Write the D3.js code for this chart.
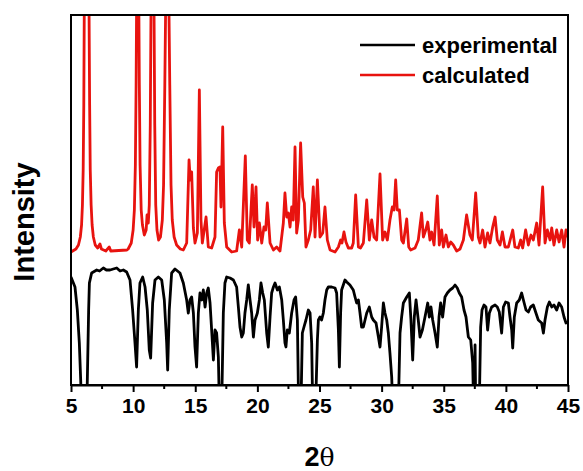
<!DOCTYPE html>
<html>
<head>
<meta charset="utf-8">
<script src="https://cdn.jsdelivr.net/npm/d3@7"></script>
<style>
  html, body { margin: 0; padding: 0; background: #fff; }
  svg { display: block; }
  text { font-family: "Liberation Sans", Arial, sans-serif; }
</style>
</head>
<body>
<svg id="chart" width="583" height="471"></svg>
<script>
// ---- data (2θ in degrees, intensity in arbitrary units) ----
const xTicks = [5, 10, 15, 20, 25, 30, 35, 40, 45];
const seriesNames = ["experimental", "calculated"];
const seriesColors = ["#000000", "#e8130f"];

const calculated = [
  [5.00,133],[5.40,136],[5.60,140],[5.75,148],[5.85,160],[5.92,180],[5.98,215],[6.03,280],[6.07,380],[6.26,700],
  [6.45,380],[6.50,280],[6.55,215],[6.62,180],[6.70,160],[6.80,148],[6.95,140],[7.15,137],[7.33,141],[7.45,136],
  [7.80,134],[8.08,138],[8.20,134],[9.50,135],[9.60,136],[9.85,142],[10.00,155],[10.10,175],[10.18,220],[10.24,300],
  [10.28,380],[10.37,700],[10.46,380],[10.50,300],[10.56,220],[10.65,175],[10.75,160],[10.90,150],[11.05,155],[11.12,170],
  [11.22,162],[11.30,180],[11.38,260],[11.44,380],[11.57,700],[11.68,380],[11.74,260],[11.82,180],[11.92,155],[12.05,145],
  [12.20,148],[12.35,165],[12.45,200],[12.55,300],[12.62,380],[12.75,700],[12.88,380],[12.95,300],[13.05,200],[13.15,165],
  [13.30,148],[13.50,140],[13.80,136],[14.04,135],[14.31,142],[14.50,225],[14.60,205],[14.71,213],[14.85,157],[14.98,142],
  [15.17,152],[15.33,295],[15.46,165],[15.57,142],[15.87,168],[16.05,138],[16.32,137],[16.59,148],[16.72,213],[16.86,217],
  [16.99,218],[17.07,178],[17.21,258],[17.34,162],[17.53,138],[17.93,133],[18.33,134],[18.55,155],[18.74,138],[19.03,229],
  [19.19,145],[19.35,142],[19.59,200],[19.73,158],[19.89,198],[20.02,145],[20.16,162],[20.35,142],[20.53,158],[20.67,155],
  [20.80,182],[21.02,142],[21.29,135],[21.55,138],[21.82,134],[22.09,162],[22.22,192],[22.36,168],[22.49,172],[22.63,158],
  [22.76,178],[22.89,165],[23.03,238],[23.16,152],[23.30,165],[23.48,242],[23.65,188],[23.78,182],[23.91,138],[24.10,145],
  [24.29,155],[24.50,198],[24.64,148],[24.83,205],[25.04,148],[25.26,152],[25.44,178],[25.63,145],[25.85,135],[26.25,133],
  [26.52,138],[26.70,145],[26.81,142],[26.97,153],[27.13,143],[27.32,137],[27.59,137],[27.72,142],[27.91,190],[28.13,138],
  [28.30,137],[28.53,142],[28.80,185],[29.01,145],[29.20,165],[29.39,148],[29.60,145],[29.87,211],[30.08,145],[30.27,153],
  [30.46,145],[30.67,165],[30.86,178],[31.00,175],[31.13,205],[31.26,175],[31.43,175],[31.61,145],[31.75,142],[32.02,166],
  [32.18,138],[32.34,135],[32.69,137],[32.95,145],[33.22,172],[33.36,148],[33.55,155],[33.71,163],[33.89,145],[34.03,153],
  [34.22,140],[34.48,189],[34.64,140],[34.83,155],[34.97,138],[35.18,150],[35.37,138],[35.56,143],[35.77,140],[36.04,134],
  [36.31,136],[36.58,145],[36.84,170],[37.11,150],[37.30,145],[37.57,192],[37.78,148],[37.92,142],[38.13,155],[38.32,138],
  [38.53,152],[38.72,142],[38.94,158],[39.13,168],[39.31,145],[39.53,140],[39.72,153],[39.93,138],[40.20,138],[40.55,155],
  [40.73,138],[41.00,137],[41.19,145],[41.35,137],[41.59,155],[41.81,140],[42.02,150],[42.21,145],[42.48,162],[42.67,140],
  [42.96,198],[43.15,142],[43.34,155],[43.55,145],[43.69,157],[43.87,140],[44.09,155],[44.28,143],[44.49,155],[44.68,138],
  [44.84,155],[45.00,148]
];

const experimental = [
  [5.00,108],[5.32,98],[5.51,75],[5.67,42],[5.78,5],[5.89,-40],[6.15,-40],[6.31,2],[6.42,75],[6.48,102],
  [6.66,112],[7.07,115],[7.30,114],[7.60,117],[7.85,115],[8.14,115],[8.40,116],[8.68,117],[8.95,114],[9.21,115],
  [9.48,113],[9.75,105],[9.96,75],[10.15,42],[10.28,18],[10.42,75],[10.55,102],[10.77,108],[10.96,98],[11.14,75],
  [11.30,35],[11.41,27],[11.57,82],[11.76,105],[12.03,108],[12.30,105],[12.51,85],[12.70,42],[12.78,15],[12.91,75],
  [13.10,112],[13.37,116],[13.77,112],[14.04,102],[14.31,85],[14.44,72],[14.58,85],[14.71,88],[14.85,72],[14.98,38],
  [15.11,18],[15.25,72],[15.38,92],[15.52,85],[15.65,95],[15.79,78],[15.92,92],[16.05,97],[16.19,82],[16.32,55],
  [16.46,25],[16.59,55],[16.72,52],[16.86,28],[16.94,-20],[17.13,-20],[17.26,72],[17.39,102],[17.53,108],[17.80,107],
  [18.07,105],[18.33,98],[18.47,78],[18.60,58],[18.74,48],[18.87,52],[19.00,72],[19.14,85],[19.27,100],[19.41,85],
  [19.54,72],[19.68,48],[19.81,65],[20.00,72],[20.16,85],[20.29,102],[20.43,92],[20.56,85],[20.75,52],[20.88,38],
  [21.02,68],[21.15,92],[21.29,98],[21.42,102],[21.61,95],[21.77,98],[21.96,85],[22.09,65],[22.22,42],[22.30,38],
  [22.41,55],[22.57,52],[22.76,72],[22.95,85],[23.08,88],[23.22,65],[23.32,-20],[23.51,-20],[23.62,52],[23.75,58],
  [23.91,65],[24.10,75],[24.24,72],[24.37,42],[24.45,-20],[24.69,-20],[24.83,45],[24.91,65],[25.04,68],[25.17,65],
  [25.31,72],[25.44,85],[25.58,95],[25.71,98],[25.98,98],[26.25,97],[26.38,92],[26.52,55],[26.60,18],[26.70,72],
  [26.78,95],[27.05,105],[27.19,103],[27.45,100],[27.72,95],[27.86,88],[27.99,82],[28.13,85],[28.26,72],[28.39,58],
  [28.53,58],[28.80,72],[29.01,78],[29.20,68],[29.33,65],[29.55,62],[29.74,48],[29.87,38],[30.00,58],[30.14,82],
  [30.27,72],[30.41,65],[30.54,52],[30.67,32],[30.81,8],[30.89,-20],[31.35,-20],[31.48,52],[31.61,68],[31.75,82],
  [32.02,88],[32.23,92],[32.36,65],[32.50,25],[32.63,68],[32.77,85],[32.95,65],[33.09,48],[33.28,55],[33.49,68],
  [33.71,82],[33.84,68],[33.97,78],[34.11,65],[34.30,52],[34.48,38],[34.62,68],[34.75,82],[34.91,68],[35.10,88],
  [35.29,92],[35.50,95],[35.72,97],[35.91,100],[36.09,97],[36.25,92],[36.44,88],[36.63,75],[36.79,68],[36.98,48],
  [37.17,45],[37.33,22],[37.40,-20],[37.47,-20],[37.52,40],[37.57,-20],[37.86,-20],[37.97,58],[38.08,75],[38.24,80],
  [38.40,78],[38.53,55],[38.67,72],[38.86,78],[39.13,80],[39.31,78],[39.47,73],[39.66,52],[39.80,78],[39.98,83],
  [40.20,82],[40.33,68],[40.47,55],[40.55,37],[40.68,68],[40.87,82],[41.08,85],[41.27,92],[41.41,85],[41.62,75],
  [41.81,73],[41.99,78],[42.21,80],[42.42,72],[42.61,65],[42.88,62],[43.02,52],[43.15,65],[43.34,78],[43.50,83],
  [43.69,78],[43.87,80],[44.09,75],[44.28,82],[44.49,78],[44.68,68],[44.84,62],[45.00,63]
];

// ---- layout ----
const margin = { left: 71, top: 15, right: 583 - 568, bottom: 471 - 385 };
const W = 583, H = 471;
const x = d3.scaleLinear().domain([5, 45]).range([margin.left, W - margin.right]);
const y = d3.scaleLinear().domain([0, 370]).range([H - margin.bottom, margin.top]);

const svg = d3.select("#chart");

svg.append("defs").append("clipPath").attr("id", "plotclip")
  .append("rect")
  .attr("x", x(5)).attr("y", y(370))
  .attr("width", x(45) - x(5)).attr("height", y(0) - y(370));

const line = d3.line().x(d => x(d[0])).y(d => y(d[1]));

const plot = svg.append("g").attr("clip-path", "url(#plotclip)");
plot.append("path").datum(experimental)
  .attr("fill", "none").attr("stroke", seriesColors[0])
  .attr("stroke-width", 2.8).attr("stroke-linejoin", "round")
  .attr("d", line);
plot.append("path").datum(calculated)
  .attr("fill", "none").attr("stroke", seriesColors[1])
  .attr("stroke-width", 2.8).attr("stroke-linejoin", "round")
  .attr("d", line);

// frame
svg.append("rect")
  .attr("x", x(5)).attr("y", y(370))
  .attr("width", x(45) - x(5)).attr("height", y(0) - y(370))
  .attr("fill", "none").attr("stroke", "#000").attr("stroke-width", 2);

// x axis
const xAxis = d3.axisBottom(x).tickValues(xTicks).tickSize(7).tickSizeOuter(0).tickPadding(6)
  .tickFormat(d3.format("d"));
const gx = svg.append("g").attr("transform", `translate(0,${y(0)})`).call(xAxis);
gx.select(".domain").attr("stroke-width", 2);
gx.selectAll(".tick line").attr("stroke-width", 2);
gx.selectAll(".tick text").attr("font-size", 21).attr("font-weight", "bold")
  .attr("font-family", "'Liberation Sans', Arial, sans-serif").attr("fill", "#000");
const minor = d3.range(7.5, 45, 5);
svg.append("g").selectAll("line").data(minor).join("line")
  .attr("x1", d => x(d)).attr("x2", d => x(d))
  .attr("y1", y(0)).attr("y2", y(0) + 4)
  .attr("stroke", "#000").attr("stroke-width", 2);

// axis titles
const xt = svg.append("text")
  .attr("x", (x(5) + x(45)) / 2).attr("y", 466)
  .attr("text-anchor", "middle").attr("font-size", 27).attr("fill", "#000");
xt.append("tspan").attr("font-weight", "bold").text("2");
xt.append("tspan").attr("font-family", "'DejaVu Serif', serif").attr("font-size", 25).text("θ");

svg.append("text")
  .attr("transform", `translate(34,222) rotate(-90)`)
  .attr("text-anchor", "middle").attr("font-size", 29).attr("font-weight", "bold")
  .attr("fill", "#000").text("Intensity");

// legend
const legend = svg.append("g");
seriesNames.forEach((name, i) => {
  const ly = 45 + i * 30;
  legend.append("line").attr("x1", 360).attr("x2", 415).attr("y1", ly).attr("y2", ly)
    .attr("stroke", seriesColors[i]).attr("stroke-width", 2.6);
  legend.append("text").attr("x", 422).attr("y", ly + 8)
    .attr("font-size", 22).attr("font-weight", "bold").attr("fill", "#000").text(name);
});
</script>
</body>
</html>
